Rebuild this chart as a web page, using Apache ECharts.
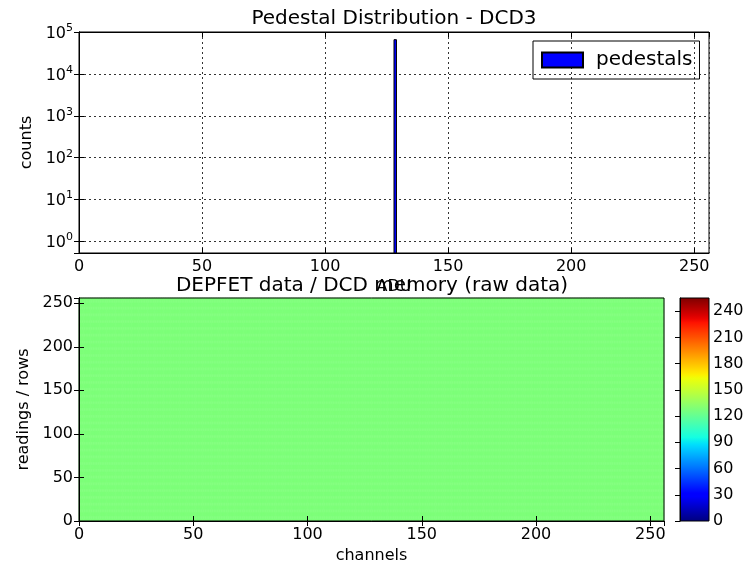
<!DOCTYPE html>
<html>
<head>
<meta charset="utf-8">
<script src="https://cdn.jsdelivr.net/npm/echarts@6/dist/echarts.min.js"></script>
<style>
  html, body { margin: 0; padding: 0; background: #fff; }
  #chart { width: 755px; height: 565px; }
</style>
</head>
<body>
<div id="chart"></div>
<script>
// histogram of pedestals: bin start, bin end, count
var binStart = [128];
var binEnd = [129];
var binCount = [65536];

// raw frame: every pixel reads the same level
var nChannels = 256;
var nRows = 256;
var rawLevel = 128;

var countsMin = 0.53;
var countsMax = 100000;

// jet colormap (matplotlib segment data)
var jetR = [[0, 0], [0.35, 0], [0.66, 1], [0.89, 1], [1, 0.5]];
var jetG = [[0, 0], [0.125, 0], [0.375, 1], [0.64, 1], [0.91, 0], [1, 0]];
var jetB = [[0, 0.5], [0.11, 1], [0.34, 1], [0.65, 0], [1, 0]];

function seg(s, t) {
  for (var i = 1; i < s.length; i++) {
    if (t <= s[i][0]) {
      var f = (t - s[i - 1][0]) / (s[i][0] - s[i - 1][0]);
      return s[i - 1][1] + f * (s[i][1] - s[i - 1][1]);
    }
  }
  return s[s.length - 1][1];
}
function jet(t) {
  var c = [seg(jetR, t), seg(jetG, t), seg(jetB, t)].map(function (v) {
    return Math.round(v * 255);
  });
  return 'rgb(' + c.join(',') + ')';
}
var jetColors = [];
var jetStops = [];
for (var k = 0; k <= 64; k++) {
  jetColors.push(jet(k / 64));
  jetStops.push({ offset: 1 - k / 64, color: jet(k / 64) });
}

var histData = binStart.map(function (s, i) { return [s, binEnd[i], binCount[i]]; });

var heatData = [];
for (var r = 0; r < nRows; r++) {
  for (var c = 0; c < nChannels; c++) {
    heatData.push([c, r, rawLevel]);
  }
}
var chanCats = [];
for (var q = 0; q < nChannels; q++) chanCats.push(q);
var rowCats = [];
for (var w = 0; w < nRows; w++) rowCats.push(w);

var fontFam = '"DejaVu Sans", sans-serif';
var lbl = { color: '#000', fontSize: 16, fontFamily: fontFam };
var blackLine = { show: true, lineStyle: { color: '#000', width: 1 } };
var tickIn = { show: true, inside: true, length: 5, lineStyle: { color: '#000' } };
var dotted = { show: true, lineStyle: { color: '#333', width: 1, type: [2, 3] } };

function pow10(v) {
  var n = Math.log10(v);
  if (Math.abs(n - Math.round(n)) > 1e-6) return '';
  return '{b|10}{s|' + Math.round(n) + '}';
}

var dom = document.getElementById('chart');
var myChart = echarts.init(dom, null, { renderer: 'canvas' });

var heatBox = { left: 79, top: 298, width: 585, height: 223 };

var option = {
  animation: false,
  backgroundColor: '#fff',
  textStyle: { fontFamily: fontFam },
  title: [
    { text: 'Pedestal Distribution - DCD3', left: 389, top: 4, textAlign: 'center',
      textStyle: { fontSize: 20, fontWeight: 'normal', color: '#000', fontFamily: fontFam } },
    { text: 'DEPFET data / DCD memory (raw data)', left: 367, top: 271, textAlign: 'center',
      textStyle: { fontSize: 20, fontWeight: 'normal', color: '#000', fontFamily: fontFam } }
  ],
  legend: {
    data: ['pedestals'],
    left: 533, top: 41,
    padding: [9, 7, 9, 8],
    borderColor: '#000', borderWidth: 1,
    icon: 'rect', itemWidth: 41, itemHeight: 15, itemGap: 10,
    textStyle: { fontSize: 20, color: '#000', fontFamily: fontFam, padding: [0, 0, 0, 8] }
  },
  grid: [
    { left: 79, top: 32, width: 630, height: 221, show: true, borderColor: '#000', borderWidth: 1 },
    Object.assign({ show: true, borderColor: '#000', borderWidth: 1, z: 10 }, heatBox),
    { left: 680, top: 298, width: 29, height: 223, show: true, borderColor: '#000', borderWidth: 1, z: 10 },
    Object.assign({ show: false }, heatBox)
  ],
  visualMap: {
    type: 'continuous', show: false, min: 0, max: 255, dimension: 2, seriesIndex: 1,
    inRange: { color: jetColors }
  },
  xAxis: [
    { type: 'value', gridIndex: 0, min: 0, max: 256, interval: 50, position: 'bottom',
      name: 'ADU', nameLocation: 'middle', nameGap: 26, nameTextStyle: lbl,
      axisLine: blackLine, axisTick: tickIn, splitLine: dotted,
      axisLabel: Object.assign({ margin: 6, showMaxLabel: false }, lbl) },
    { type: 'value', gridIndex: 0, min: 0, max: 256, interval: 50, position: 'top',
      axisLine: blackLine, axisTick: tickIn, splitLine: { show: false }, axisLabel: { show: false } },
    { type: 'value', gridIndex: 1, min: 0, max: 256, interval: 50, position: 'bottom', z: 10,
      name: 'channels', nameLocation: 'middle', nameGap: 27, nameTextStyle: lbl,
      axisLine: blackLine, axisTick: tickIn, splitLine: { show: false },
      axisLabel: Object.assign({ margin: 6, showMaxLabel: false }, lbl) },
    { type: 'value', gridIndex: 1, min: 0, max: 256, interval: 50, position: 'top', z: 10,
      axisLine: blackLine, axisTick: tickIn, splitLine: { show: false }, axisLabel: { show: false } },
    { type: 'value', gridIndex: 2, min: 0, max: 1, show: false },
    { type: 'category', gridIndex: 3, data: chanCats, show: false }
  ],
  yAxis: [
    { type: 'log', logBase: 10, gridIndex: 0, min: countsMin, max: countsMax, position: 'left',
      name: 'counts', nameLocation: 'middle', nameGap: 42, nameTextStyle: lbl,
      axisLine: blackLine, axisTick: tickIn, splitLine: dotted,
      axisLabel: { margin: 6, color: '#000', formatter: pow10,
        rich: {
          b: { fontSize: 16, fontFamily: fontFam, color: '#000', verticalAlign: 'bottom' },
          s: { fontSize: 11, fontFamily: fontFam, color: '#000', verticalAlign: 'bottom', padding: [0, 0, 8, 0] }
        } } },
    { type: 'log', logBase: 10, gridIndex: 0, min: countsMin, max: countsMax, position: 'right',
      axisLine: blackLine, axisTick: tickIn, splitLine: { show: false }, axisLabel: { show: false } },
    { type: 'value', gridIndex: 1, min: 0, max: 256, interval: 50, position: 'left', z: 10,
      name: 'readings / rows', nameLocation: 'middle', nameGap: 42, nameTextStyle: lbl,
      axisLine: blackLine, axisTick: tickIn, splitLine: { show: false },
      axisLabel: Object.assign({ margin: 6, showMaxLabel: false }, lbl) },
    { type: 'value', gridIndex: 1, min: 0, max: 256, interval: 50, position: 'right', z: 10,
      axisLine: blackLine, axisTick: tickIn, splitLine: { show: false }, axisLabel: { show: false } },
    { type: 'value', gridIndex: 2, min: 0, max: 255, interval: 30, position: 'right', z: 10,
      axisLine: blackLine, axisTick: tickIn, splitLine: { show: false },
      axisLabel: Object.assign({ margin: 4, showMaxLabel: false }, lbl) },
    { type: 'category', gridIndex: 3, data: rowCats, show: false }
  ],
  series: [
    {
      name: 'pedestals', type: 'custom', xAxisIndex: 0, yAxisIndex: 0,
      itemStyle: { color: '#0000ff', borderColor: '#000', borderWidth: 1 },
      data: histData,
      renderItem: function (params, api) {
        var p0 = api.coord([api.value(0), api.value(2)]);
        var p1 = api.coord([api.value(1), countsMin]);
        return {
          type: 'rect',
          shape: { x: p0[0], y: p0[1], width: p1[0] - p0[0], height: p1[1] - p0[1] },
          style: { fill: '#0000ff', stroke: '#000', lineWidth: 1 }
        };
      }
    },
    {
      name: 'frame', type: 'heatmap', xAxisIndex: 5, yAxisIndex: 5,
      itemStyle: { borderWidth: 0 },
      data: heatData, progressive: 0, emphasis: { disabled: true }
    },
    {
      name: 'colorbar', type: 'custom', xAxisIndex: 4, yAxisIndex: 4,
      data: [[0, 1, 0, 255]],
      renderItem: function (params, api) {
        var a = api.coord([api.value(0), api.value(3)]);
        var b = api.coord([api.value(1), api.value(2)]);
        return {
          type: 'rect',
          shape: { x: a[0], y: a[1], width: b[0] - a[0], height: b[1] - a[1] },
          style: { fill: new echarts.graphic.LinearGradient(0, 0, 0, 1, jetStops) }
        };
      }
    }
  ]
};

myChart.setOption(option);
window.addEventListener('resize', myChart.resize);
</script>
</body>
</html>
